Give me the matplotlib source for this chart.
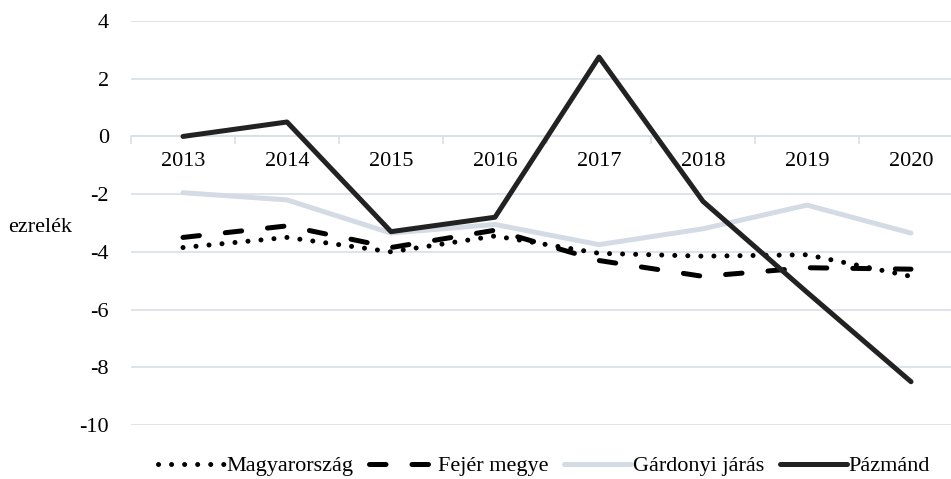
import numpy as np
import matplotlib
matplotlib.use('Agg')
import matplotlib.pyplot as plt

plt.rcParams['font.family'] = ['Liberation Serif', 'DejaVu Serif']

years = ['2013', '2014', '2015', '2016', '2017', '2018', '2019', '2020']
magyarorszag = [-3.85, -3.5, -4.0, -3.45, -4.05, -4.15, -4.1, -4.85]
fejer = [-3.5, -3.1, -3.85, -3.25, -4.3, -4.85, -4.55, -4.6]
gardonyi = [-1.95, -2.2, -3.35, -3.05, -3.75, -3.2, -2.38, -3.35]
pazmand = [0.0, 0.5, -3.3, -2.8, 2.75, -2.25, -5.4, -8.5]

grid_col = '#d9dee7'
x = np.arange(len(years))
fs = 16
lw = 3.6

fig = plt.figure(figsize=(9.51, 4.79), dpi=100)
ax = fig.add_axes([131/951, 54/479, 832/951, 404/479])

ax.plot(x, gardonyi, color='#d5dbe5', lw=lw, solid_capstyle='round', label='Gárdonyi járás', zorder=3)
ax.plot(x, magyarorszag, color='black', lw=lw, linestyle=(0, (0.01, 2.6)),
        dash_capstyle='round', label='Magyarország', zorder=4)
ax.plot(x, fejer, color='black', lw=lw, linestyle=(0, (3.3, 5.2)),
        dash_capstyle='round', label='Fejér megye', zorder=4)
ax.plot(x, pazmand, color='#222222', lw=lw, solid_capstyle='round', label='Pázmánd', zorder=5)

ax.set_xlim(-0.5, len(years) - 0.5)
ax.set_ylim(-10, 4)
ax.set_yticks(np.arange(-10, 5, 2))
ax.set_yticklabels([str(v) for v in range(-10, 5, 2)])
ax.yaxis.grid(True, color=grid_col, lw=1.2)
ax.set_axisbelow(True)

for s in ['top', 'right', 'left']:
    ax.spines[s].set_visible(False)
ax.spines['bottom'].set_position(('data', 0))
ax.spines['bottom'].set_color(grid_col)
ax.spines['bottom'].set_linewidth(1.2)

ax.set_xticks(x)
ax.set_xticklabels(years)
ax.set_xticks(np.arange(-0.5, len(years), 1), minor=True)
ax.tick_params(axis='x', which='major', length=0, pad=11, labelsize=fs)
ax.tick_params(axis='x', which='minor', length=6, width=1.2, color=grid_col, direction='out')
ax.tick_params(axis='y', length=0, pad=16, labelsize=fs)

fig.text(8/951, 1 - 227/479, 'ezrelék', fontsize=fs, va='center', ha='left')

handles, labels = ax.get_legend_handles_labels()
order = [1, 2, 0, 3]
fig.legend([handles[i] for i in order], [labels[i] for i in order],
           loc='center', bbox_to_anchor=(544/951, 1 - 466/479), ncol=4, frameon=False,
           fontsize=fs, handlelength=3.0, handletextpad=0.1, columnspacing=0.7)

fig.savefig('out.png', dpi=100)
